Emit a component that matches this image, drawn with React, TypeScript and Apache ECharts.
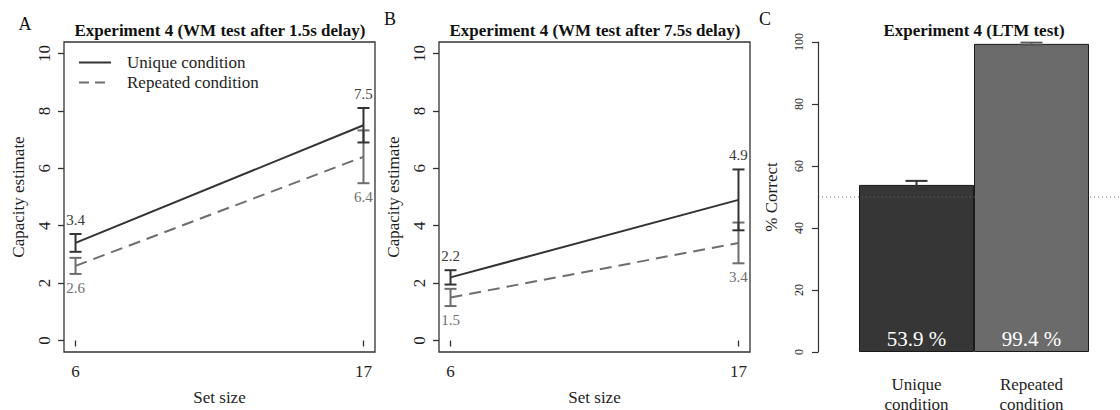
import React, { useEffect, useRef } from 'react';
import * as echarts from 'echarts';

// ---------- data ----------
const setSizes = [6, 17];
const capacityTicks = [0, 2, 4, 6, 8, 10];
const seriesNames = ['Unique condition', 'Repeated condition'];

const wm15Unique = [3.4, 7.5];
const wm15UniqueErr = [0.31, 0.6];
const wm15Repeated = [2.6, 6.4];
const wm15RepeatedErr = [0.28, 0.92];

const wm75Unique = [2.2, 4.9];
const wm75UniqueErr = [0.25, 1.06];
const wm75Repeated = [1.5, 3.4];
const wm75RepeatedErr = [0.3, 0.71];

const ltmCategories = ['Unique\ncondition', 'Repeated\ncondition'];
const ltmValues = [53.9, 99.4];
const ltmErr = [1.3, 0.4];
const chanceLevel = 50;

const panelTitles = [
  'Experiment 4 (WM test after 1.5s delay)',
  'Experiment 4 (WM test after 7.5s delay)',
  'Experiment 4 (LTM test)',
];
const panelLetters = ['A', 'B', 'C'];

// ---------- styles ----------
const FONT = 'Liberation Serif';
const DARK = '#333333';
const GREY = '#6e6e6e';
const TXT = '#1e1e1e';
const barColors = ['#363636', '#6b6b6b'];

function errRender(color: string, labelAbove: boolean, withLabel: boolean, cap: number) {
  return (params: any, api: any) => {
    const x = api.value(0);
    const m = api.value(1);
    const e = api.value(2);
    const top = api.coord([x, m + e]);
    const bot = api.coord([x, m - e]);
    const st = { stroke: color, lineWidth: 2 };
    const children: any[] = [
      { type: 'line', shape: { x1: top[0], y1: top[1], x2: bot[0], y2: bot[1] }, style: st },
      { type: 'line', shape: { x1: top[0] - cap, y1: top[1], x2: top[0] + cap, y2: top[1] }, style: st },
      { type: 'line', shape: { x1: bot[0] - cap, y1: bot[1], x2: bot[0] + cap, y2: bot[1] }, style: st },
    ];
    if (withLabel) {
      children.push({
        type: 'text',
        style: {
          text: Number(m).toFixed(1),
          x: top[0],
          y: labelAbove ? top[1] - 14 : bot[1] + 14,
          textAlign: 'center',
          textVerticalAlign: 'middle',
          fill: color === DARK ? '#3a3a3a' : GREY,
          font: `15px ${FONT}`,
        },
      });
    }
    return { type: 'group', children };
  };
}

function wmAxes(g: number) {
  const xAxis = {
    type: 'value',
    gridIndex: g,
    min: 5.56,
    max: 17.44,
    axisLine: { show: false },
    splitLine: { show: false },
    axisTick: { show: true, length: 6, customValues: setSizes, lineStyle: { color: DARK, width: 1.3 } },
    axisLabel: { customValues: setSizes, margin: 11, fontFamily: FONT, fontSize: 17, color: TXT },
    name: 'Set size',
    nameLocation: 'middle',
    nameGap: 37,
    nameTextStyle: { fontFamily: FONT, fontSize: 17, color: TXT },
  };
  const yAxis = {
    type: 'value',
    gridIndex: g,
    min: -0.4,
    max: 10.4,
    axisLine: { show: false },
    splitLine: { show: false },
    axisTick: { show: true, length: 6, customValues: capacityTicks, lineStyle: { color: DARK, width: 1.3 } },
    axisLabel: { customValues: capacityTicks, rotate: 90, margin: 11, fontFamily: FONT, fontSize: 17, color: TXT },
    name: 'Capacity estimate',
    nameLocation: 'middle',
    nameRotate: 90,
    nameGap: 37,
    nameTextStyle: { fontFamily: FONT, fontSize: 17, color: TXT },
  };
  return { xAxis, yAxis };
}

function wmSeries(g: number, uni: number[], uniErr: number[], rep: number[], repErr: number[]) {
  return [
    {
      type: 'line',
      name: seriesNames[0],
      xAxisIndex: g,
      yAxisIndex: g,
      data: setSizes.map((x, i) => [x, uni[i]]),
      symbol: 'none',
      lineStyle: { color: DARK, width: 2 },
      itemStyle: { color: DARK },
      z: 3,
    },
    {
      type: 'line',
      name: seriesNames[1],
      xAxisIndex: g,
      yAxisIndex: g,
      data: setSizes.map((x, i) => [x, rep[i]]),
      symbol: 'none',
      lineStyle: { color: GREY, width: 2, type: [12, 7] },
      itemStyle: { color: GREY },
      z: 3,
    },
    {
      type: 'custom',
      xAxisIndex: g,
      yAxisIndex: g,
      data: setSizes.map((x, i) => [x, rep[i], repErr[i]]),
      encode: { x: 0, y: 1 },
      clip: false,
      z: 4,
      renderItem: errRender(GREY, false, true, 6),
    },
    {
      type: 'custom',
      xAxisIndex: g,
      yAxisIndex: g,
      data: setSizes.map((x, i) => [x, uni[i], uniErr[i]]),
      encode: { x: 0, y: 1 },
      clip: false,
      z: 5,
      renderItem: errRender(DARK, true, true, 6),
    },
  ];
}

export default function App() {
  const ref = useRef<HTMLDivElement>(null);
  useEffect(() => {
    if (!ref.current) return;
    const chart = echarts.init(ref.current, undefined, { renderer: 'svg' });
    const a = wmAxes(0);
    const b = wmAxes(1);
    const titleX = [220, 595, 974];
    const letterPos = [[25, 24], [390, 19], [765, 19]];
    const graphics: any[] = [];
    panelTitles.forEach((t, i) => {
      graphics.push({
        type: 'text',
        x: titleX[i],
        y: 30,
        style: { text: t, textAlign: 'center', textVerticalAlign: 'middle', font: `bold 17px ${FONT}`, fill: '#111' },
      });
      graphics.push({
        type: 'text',
        x: letterPos[i][0],
        y: letterPos[i][1],
        style: { text: panelLetters[i], textAlign: 'center', textVerticalAlign: 'middle', font: `18px ${FONT}`, fill: '#111' },
      });
    });

    const gridBase = { top: 42, height: 310, outerBoundsMode: 'none', containLabel: false };

    const option: any = {
      animation: false,
      backgroundColor: '#ffffff',
      textStyle: { fontFamily: FONT },
      graphic: graphics,
      legend: {
        orient: 'vertical',
        left: 78,
        top: 54,
        padding: 0,
        itemWidth: 32,
        itemHeight: 14,
        itemGap: 3,
        itemStyle: { opacity: 0 },
        data: [
          { name: seriesNames[0], itemStyle: { opacity: 0 }, lineStyle: { color: DARK, width: 2, type: 'solid' } },
          { name: seriesNames[1], itemStyle: { opacity: 0 }, lineStyle: { color: GREY, width: 2, type: [10, 6] } },
        ],
        textStyle: { fontFamily: FONT, fontSize: 17, color: TXT, padding: [0, 0, 0, 11] },
      },
      grid: [
        { ...gridBase, left: 64, width: 311, show: true, borderColor: DARK, borderWidth: 1.3, backgroundColor: 'transparent' },
        { ...gridBase, left: 439, width: 311, show: true, borderColor: DARK, borderWidth: 1.3, backgroundColor: 'transparent' },
        { ...gridBase, left: 859, width: 230 },
        { ...gridBase, left: 822, width: 298 },
      ],
      xAxis: [
        a.xAxis,
        b.xAxis,
        {
          type: 'category',
          gridIndex: 2,
          data: ltmCategories,
          axisLine: { show: false },
          axisTick: { show: false },
          axisLabel: { fontFamily: FONT, fontSize: 17, lineHeight: 20, margin: 22, color: TXT },
        },
        { type: 'value', gridIndex: 3, min: 0, max: 1, show: false },
      ],
      yAxis: [
        a.yAxis,
        b.yAxis,
        {
          type: 'value',
          gridIndex: 2,
          min: 0,
          max: 100,
          interval: 20,
          offset: 41,
          axisLine: { show: true, lineStyle: { color: DARK, width: 1.2 } },
          axisTick: { show: true, length: 6, lineStyle: { color: DARK, width: 1.2 } },
          splitLine: { show: false },
          axisLabel: { rotate: 90, margin: 13, fontFamily: FONT, fontSize: 12, color: TXT },
          name: '% Correct',
          nameLocation: 'middle',
          nameRotate: 90,
          nameGap: 38,
          nameTextStyle: { fontFamily: FONT, fontSize: 17, color: TXT },
        },
        { type: 'value', gridIndex: 3, min: 0, max: 100, show: false },
      ],
      series: [
        ...wmSeries(0, wm15Unique, wm15UniqueErr, wm15Repeated, wm15RepeatedErr),
        ...wmSeries(1, wm75Unique, wm75UniqueErr, wm75Repeated, wm75RepeatedErr),
        {
          type: 'bar',
          xAxisIndex: 2,
          yAxisIndex: 2,
          barWidth: '100%',
          data: ltmValues.map((v, i) => ({ value: v, itemStyle: { color: barColors[i] } })),
          itemStyle: { borderColor: '#1a1a1a', borderWidth: 1 },
          label: {
            show: true,
            position: 'insideBottom',
            distance: 3,
            color: '#ffffff',
            fontFamily: FONT,
            fontSize: 21,
            formatter: (p: any) => `${p.value} %`,
          },
          z: 2,
        },
        {
          type: 'custom',
          xAxisIndex: 2,
          yAxisIndex: 2,
          data: ltmValues.map((v, i) => [i, v, ltmErr[i]]),
          encode: { x: 0, y: 1 },
          clip: false,
          z: 4,
          renderItem: (params: any, api: any) => {
            const i = params.dataIndex;
            return errRender(i === 0 ? DARK : '#5a5a5a', true, false, 11)(params, api);
          },
        },
        {
          type: 'line',
          xAxisIndex: 3,
          yAxisIndex: 3,
          data: [[0, chanceLevel], [1, chanceLevel]],
          symbol: 'none',
          lineStyle: { color: '#666666', width: 1, type: [1, 3] },
          z: 6,
          silent: true,
        },
      ],
    };
    chart.setOption(option);
    return () => chart.dispose();
  }, []);
  return (
    <div
      ref={ref}
      style={{ position: 'fixed', left: 0, top: 0, width: 1120, height: 410, background: '#fff' }}
    />
  );
}
